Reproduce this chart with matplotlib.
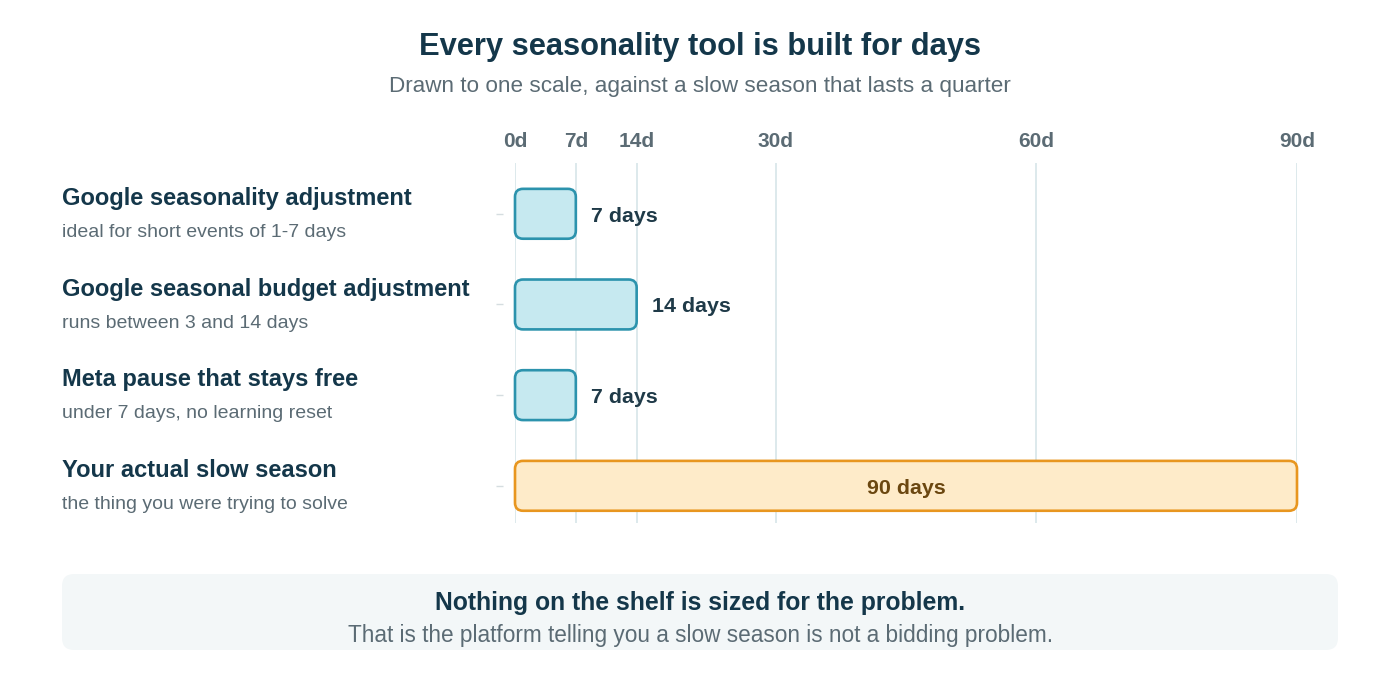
import matplotlib.pyplot as plt
from matplotlib.patches import FancyBboxPatch

plt.rcParams['font.family'] = ['Liberation Sans', 'DejaVu Sans']

tools = [
    "Google seasonality adjustment",
    "Google seasonal budget adjustment",
    "Meta pause that stays free",
    "Your actual slow season",
]
notes = [
    "ideal for short events of 1-7 days",
    "runs between 3 and 14 days",
    "under 7 days, no learning reset",
    "the thing you were trying to solve",
]
days = [7, 14, 7, 90]
tick_days = [0, 7, 14, 30, 60, 90]

DARK = "#14374a"
GRAY = "#5b6b74"
GRID = "#dde9ec"

fig = plt.figure(figsize=(14, 6.79), dpi=100)
W, H = 1400, 679

# axes placed so that 0d..90d spans the same pixels as the reference
ax = fig.add_axes([515 / W, 1 - 523 / H, (1297 - 515) / W, (523 - 163) / H])
ax.set_xlim(0, 90)
ax.set_ylim(3.41, -0.56)

for t in tick_days:
    ax.axvline(t, color=GRID, lw=1.4, zorder=0)

px_x = (1297 - 515) / 90
px_y = (523 - 163) / (3.41 + 0.56)
radius = 8 / px_x
bar_h = 0.55

for i, (d, name, note) in enumerate(zip(days, tools, notes)):
    last = i == len(days) - 1
    face = "#feebc9" if last else "#c6e9f0"
    edge = "#e8961f" if last else "#2c93ad"
    box = FancyBboxPatch((0, i - bar_h / 2), d, bar_h,
                         boxstyle=f"round,pad=0,rounding_size={radius}",
                         mutation_aspect=px_x / px_y,
                         facecolor=face, edgecolor=edge, lw=1.9, zorder=2,
                         clip_on=False)
    ax.add_patch(box)
    lab_y = i + 8 / px_y
    if last:
        ax.text(d / 2, lab_y, f"{d} days", ha="center", va="baseline",
                fontsize=15.4, fontweight="bold", color="#6b4710", zorder=3)
    else:
        ax.text(d + 1.8, lab_y, f"{d} days", ha="left", va="baseline",
                fontsize=15.4, fontweight="bold", color="#1f3a48", zorder=3)
    y_px = 214 + i * 90.7
    fig.text(62 / W, 1 - (y_px - 9) / H, name, ha="left", va="baseline",
             fontsize=17, fontweight="bold", color=DARK)
    fig.text(62 / W, 1 - (y_px + 23) / H, note, ha="left", va="baseline",
             fontsize=14, color=GRAY)

ax.set_yticks(range(len(days)))
ax.set_yticklabels([])
ax.tick_params(axis="y", length=5, color="#d5dde0", width=1)
ax.spines["left"].set_position(("outward", 8.6))
for s in ax.spines.values():
    s.set_visible(False)

ax.xaxis.tick_top()
ax.set_xticks(tick_days)
ax.set_xticklabels([f"{t}d" for t in tick_days], fontsize=15,
                   fontweight="bold", color=GRAY)
ax.tick_params(axis="x", length=0, pad=8.5)

fig.text(0.5, 1 - 55 / H, "Every seasonality tool is built for days",
         ha="center", va="baseline", fontsize=22.2, fontweight="bold", color=DARK)
fig.text(0.5, 1 - 92 / H,
         "Drawn to one scale, against a slow season that lasts a quarter",
         ha="center", va="baseline", fontsize=16.2, color=GRAY)

# callout box at the bottom
note_box = FancyBboxPatch((62 / W, 1 - 650 / H), (1338 - 62) / W, 76 / H,
                          boxstyle=f"round,pad=0,rounding_size={12 / W}",
                          mutation_aspect=W / H, transform=fig.transFigure,
                          facecolor="#f3f7f8", edgecolor="none", zorder=0)
fig.patches.append(note_box)
fig.text(0.5, 1 - 610 / H, "Nothing on the shelf is sized for the problem.",
         ha="center", va="baseline", fontsize=17.8, fontweight="bold", color=DARK)
fig.text(0.5, 1 - 642 / H,
         "That is the platform telling you a slow season is not a bidding problem.",
         ha="center", va="baseline", fontsize=16.3, color=GRAY)

fig.savefig("out.png", dpi=100, facecolor="white")
